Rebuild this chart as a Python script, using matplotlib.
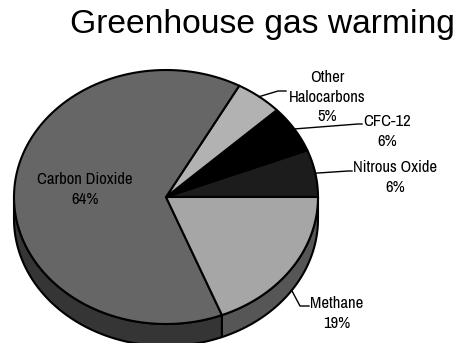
import numpy as np
import matplotlib
matplotlib.use("Agg")
import matplotlib.pyplot as plt
from matplotlib.patches import Polygon

# slices counter-clockwise from 3 o'clock
gases = ["Nitrous Oxide", "CFC-12", "Other\nHalocarbons", "Carbon Dioxide", "Methane"]
shares = [6, 6, 5, 64, 19]
colors = ["#1c1c1c", "#000000", "#b2b2b2", "#666666", "#a6a6a6"]

# pie geometry in pixels
cx, cy = 166, 197
a, b = 152, 127
depth = 22

# label anchor (center x, first baseline) and leader line points
label_pos = {
    "Nitrous Oxide": (395, 172),
    "CFC-12": (387, 126),
    "Other\nHalocarbons": (327, 82),
    "Carbon Dioxide": (85, 184),
    "Methane": (337, 308),
}
leaders = {
    "Nitrous Oxide": [(348, 171), (352, 171)],
    "CFC-12": [(358, 124), (362, 124)],
    "Other\nHalocarbons": [(278, 91), (286, 91)],
    "Methane": [(300, 306), (309, 306)],
}


def shade(c, f=0.52):
    rgb = np.array(matplotlib.colors.to_rgb(c))
    return rgb * f


def arc(t1, t2, dy=0, n=120):
    t = np.radians(np.linspace(t1, t2, n))
    return np.column_stack([cx + a * np.cos(t), cy - b * np.sin(t) + dy])


fig = plt.figure(figsize=(4.61, 3.43), dpi=100)
ax = fig.add_axes([0, 0, 1, 1])
ax.set_xlim(0, 461)
ax.set_ylim(343, 0)
ax.axis("off")

edges = np.concatenate([[0], np.cumsum(shares)]) / sum(shares) * 360

# sides (front half only)
for i, g in enumerate(gases):
    t1, t2 = max(edges[i], 180), edges[i + 1]
    if t2 <= t1:
        continue
    top = arc(t1, t2)
    bot = arc(t2, t1, dy=depth)
    ax.add_patch(Polygon(np.vstack([top, bot]), closed=True,
                         facecolor=shade(colors[i]), edgecolor="black",
                         linewidth=1.5, joinstyle="round"))

# top faces
for i, g in enumerate(gases):
    pts = np.vstack([[cx, cy], arc(edges[i], edges[i + 1])])
    ax.add_patch(Polygon(pts, closed=True, facecolor=colors[i],
                         edgecolor="black", linewidth=1.5, joinstyle="round"))

# labels
lab_font = dict(family=["Liberation Sans Narrow", "Arial Narrow", "Archivo Narrow", "DejaVu Sans"],
                weight="bold", fontsize=12, color="black")
for i, g in enumerate(gases):
    x0, y0 = label_pos[g]
    lines = g.split("\n") + [f"{shares[i]}%"]
    for k, ln in enumerate(lines):
        ax.text(x0, y0 + k * 19.7, ln, ha="center", va="baseline", **lab_font)
    if g in leaders:
        mid = np.radians((edges[i] + edges[i + 1]) / 2)
        sy = cy - b * np.sin(mid) + (depth if np.sin(mid) < 0 else 0)
        sx = cx + a * np.cos(mid)
        xs = [sx] + [p[0] for p in leaders[g]]
        ys = [sy] + [p[1] for p in leaders[g]]
        ax.plot(xs, ys, color="black", linewidth=1.0)

ax.text(262.5, 33, "Greenhouse gas warming", ha="center", va="baseline",
        family="Liberation Sans", fontsize=24.2, color="black")

fig.savefig("out.png", dpi=100)
